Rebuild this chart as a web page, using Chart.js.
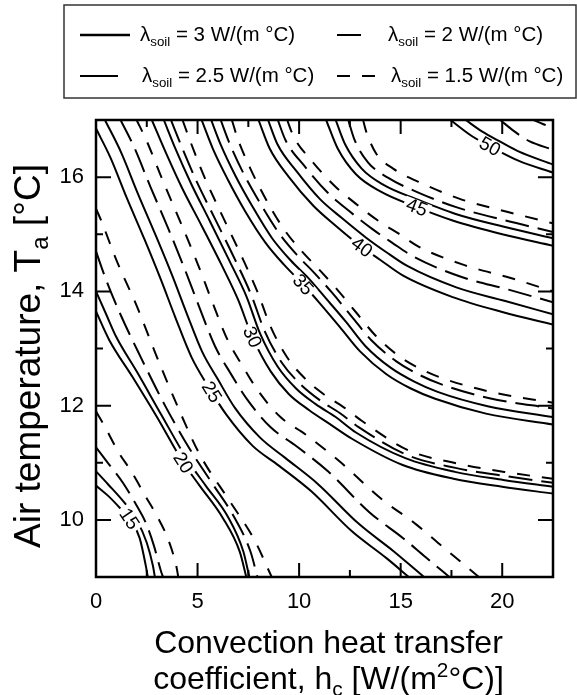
<!DOCTYPE html>
<html>
<head>
<meta charset="utf-8">
<script src="https://cdn.jsdelivr.net/npm/chart.js@4.4.0/dist/chart.umd.min.js"></script>
<style>
  html, body { margin: 0; padding: 0; background: #fff; }
  canvas { display: block; }
</style>
</head>
<body>
<canvas id="grafica" width="577" height="695"></canvas>
<script>
// Niveles de las curvas de contorno y conductividades del suelo
const niveles = [15, 20, 25, 30, 35, 40, 45, 50];
const lambdas = [3, 2.5, 2, 1.5];
// Marcas de los ejes
const ticksX = [0, 5, 10, 15, 20];
const ticksXMenores = [2.5, 7.5, 12.5, 17.5];
const ticksY = [10, 12, 14, 16];
const ticksYMenores = [11, 13, 15];
// Posición (h_c) de la etiqueta de cada nivel sobre la curva de lambda = 3
const posEtiquetas = [1.65, 4.3, 5.7, 7.7, 10.2, 13.1, 15.8, 19.4];

// Curvas: [h_c, T_a]
const n15_k30 = [[0,10.6],[0.6,10.42],[1.2,10.2],[1.7,10.0],[2.15,9.68],[2.45,9.2],[2.55,9.0]];
const n15_k25 = [[0,10.85],[0.6,10.62],[1.4,10.3],[2.0,10.0],[2.5,9.6],[2.8,9.2],[2.9,9.0]];
const n15_k20 = [[0,11.27],[0.6,10.99],[1.34,10.64],[2.0,10.25],[2.45,9.95],[2.85,9.55],[3.2,9.1],[3.3,9.0]];
const n15_k15 = [[0,11.9],[0.44,11.63],[1.1,11.19],[1.75,10.84],[2.41,10.43],[3.03,10.05],[3.55,9.66],[3.96,9.18],[4.05,9.0]];

const n20_k30 = [[0,13.65],[0.65,13.15],[1.8,12.5],[3.0,11.8],[4.3,11.0],[5.1,10.6],[6.25,10.03],[7.08,9.44],[7.4,9.0]];
const n20_k25 = [[0,14.0],[0.5,13.6],[1.0,13.2],[2.0,12.6],[3.2,11.85],[4.5,11.05],[5.4,10.6],[6.5,10.05],[7.25,9.45],[7.55,9.0]];
const n20_k20 = [[0,14.7],[0.5,14.2],[1.2,13.6],[2.2,12.85],[3.4,12.0],[4.6,11.25],[5.7,10.65],[6.8,10.05],[7.6,9.45],[7.95,9.0]];
const n20_k15 = [[0,15.45],[0.3,15.2],[1.0,14.55],[2.0,13.75],[3.0,12.85],[4.0,12.0],[5.1,11.15],[6.6,10.32],[7.8,9.65],[8.65,9.0]];

const n25_k30 = [[0,16.85],[0.7,16.35],[1.5,15.65],[2.4,14.9],[3.2,14.2],[3.9,13.55],[4.7,12.85],[5.5,12.35],[6.4,11.85],[7.7,11.3],[9.0,10.95],[10.6,10.5],[12.6,9.8],[14.3,9.33],[15.4,9.0]];
const n25_k25 = [[0.44,17.0],[1.24,16.43],[2.04,15.73],[2.94,14.98],[3.75,14.28],[4.45,13.63],[5.23,12.94],[6.0,12.46],[6.84,11.96],[8.08,11.44],[9.3,11.09],[10.92,10.63],[12.94,9.93],[14.62,9.46],[15.72,9.13],[16.15,9.0]];
const n25_k20 = [[1.21,17.0],[1.87,16.53],[2.68,15.83],[3.58,15.08],[4.39,14.37],[5.09,13.72],[5.86,13.04],[6.6,12.58],[7.44,12.11],[8.6,11.62],[9.79,11.31],[11.42,10.85],[13.47,10.13],[15.12,9.68],[16.22,9.35],[17.4,9.0]];
const n25_k15 = [[2.0,17.0],[2.5,16.63],[3.31,15.92],[4.21,15.17],[5.03,14.46],[5.73,13.81],[6.48,13.15],[7.19,12.71],[8.0,12.25],[9.08,11.8],[10.3,11.5],[12.0,11.02],[14.07,10.36],[15.73,9.93],[16.83,9.6],[18.85,9.0]];

const n30_k30 = [[2.75,17.0],[3.45,16.42],[4.25,15.8],[5.2,15.15],[6.2,14.45],[7.0,13.85],[7.7,13.2],[8.6,12.6],[9.5,12.2],[10.5,11.92],[11.5,11.68],[12.6,11.42],[15.1,10.96],[17.6,10.72],[20.0,10.58],[22.5,10.46]];
const n30_k25 = [[3.34,17.0],[3.92,16.49],[4.69,15.88],[5.62,15.22],[6.59,14.52],[7.41,13.91],[8.08,13.26],[8.95,12.68],[9.85,12.3],[10.8,12.03],[11.8,11.8],[12.8,11.53],[15.23,11.08],[17.67,10.84],[20.05,10.7],[22.5,10.58]];
const n30_k20 = [[3.69,17.0],[4.21,16.54],[4.96,15.92],[5.86,15.27],[6.84,14.56],[7.64,13.94],[8.31,13.3],[9.15,12.75],[10.05,12.38],[11.0,12.1],[12.0,11.87],[12.95,11.62],[15.29,11.14],[17.7,10.91],[20.08,10.77],[22.5,10.65]];
const n30_k15 = [[4.26,17.0],[4.66,16.61],[5.35,15.99],[6.21,15.33],[7.16,14.62],[7.95,13.99],[8.6,13.38],[9.4,12.85],[10.3,12.47],[11.25,12.19],[12.2,11.97],[13.1,11.73],[15.37,11.22],[17.75,10.99],[20.1,10.84],[22.5,10.72]];

const n35_k30 = [[5.2,17.0],[5.75,16.5],[6.5,15.95],[7.35,15.4],[8.35,14.85],[9.3,14.45],[10.2,14.12],[11.0,13.8],[12.0,13.38],[13.0,12.95],[14.3,12.55],[15.5,12.3],[16.7,12.12],[19.2,11.86],[22.5,11.67]];
const n35_k25 = [[5.67,17.0],[6.15,16.56],[6.87,16.02],[7.71,15.48],[8.67,14.93],[9.59,14.54],[10.49,14.22],[11.29,13.89],[12.3,13.47],[13.27,13.04],[14.52,12.66],[15.67,12.42],[16.82,12.24],[19.28,11.99],[22.5,11.8]];
const n35_k20 = [[6.14,17.0],[6.54,16.62],[7.24,16.08],[8.07,15.55],[9.01,15.02],[9.89,14.64],[10.78,14.31],[11.59,13.99],[12.59,13.56],[13.57,13.14],[14.77,12.78],[15.86,12.55],[16.95,12.38],[19.37,12.13],[22.5,11.95]];
const n35_k15 = [[6.69,17.0],[6.96,16.69],[7.6,16.15],[8.37,15.61],[9.27,15.08],[10.11,14.71],[10.99,14.38],[11.81,14.06],[12.81,13.63],[13.78,13.22],[14.94,12.86],[15.99,12.64],[17.05,12.48],[19.44,12.24],[22.5,12.05]];

const n40_k30 = [[8.0,17.0],[8.55,16.5],[9.5,16.0],[10.7,15.5],[11.8,15.15],[13.0,14.8],[14.0,14.55],[15.1,14.28],[17.56,13.9],[20.0,13.64],[22.5,13.42]];
const n40_k25 = [[8.47,17.0],[8.94,16.57],[9.88,16.1],[11.04,15.61],[12.12,15.28],[13.3,14.94],[14.28,14.69],[15.35,14.44],[17.74,14.07],[20.15,13.83],[22.5,13.6]];
const n40_k20 = [[8.95,17.0],[9.34,16.64],[10.25,16.2],[11.4,15.73],[12.45,15.41],[13.61,15.09],[14.59,14.85],[15.62,14.61],[17.93,14.26],[20.31,14.03],[22.5,13.81]];
const n40_k15 = [[9.41,17.0],[9.73,16.71],[10.61,16.29],[11.74,15.85],[12.77,15.54],[13.92,15.23],[14.91,15.01],[15.9,14.78],[18.14,14.46],[20.46,14.23],[22.5,14.0]];

const n45_k30 = [[11.33,17.0],[11.9,16.5],[12.8,16.05],[14.0,15.75],[15.6,15.5],[17.56,15.24],[20.0,15.0],[22.5,14.8]];
const n45_k25 = [[11.8,17.0],[12.27,16.57],[13.08,16.15],[14.18,15.86],[15.74,15.62],[17.67,15.36],[20.09,15.13],[22.5,14.93]];
const n45_k20 = [[12.42,17.0],[12.72,16.66],[13.39,16.26],[14.37,15.99],[15.87,15.73],[17.77,15.47],[20.17,15.24],[22.5,15.04]];
const n45_k15 = [[13.15,17.0],[13.32,16.78],[13.8,16.41],[14.63,16.15],[16.05,15.89],[17.91,15.62],[20.28,15.39],[22.5,15.19]];

const n50_k30 = [[17.45,17.0],[18.5,16.72],[19.6,16.5],[20.85,16.28],[22.5,16.08]];
const n50_k25 = [[18.2,17.0],[19.0,16.8],[19.9,16.62],[20.8,16.45],[22.5,16.22]];
const n50_k20 = [[19.9,17.0],[20.6,16.8],[21.33,16.63],[22.5,16.48]];
const n50_k15 = [[21.55,17.0],[22.0,16.93],[22.5,16.86]];

// Agrupar por nivel; dentro de cada nivel el orden es el de "lambdas"
const curvas = [
    [n15_k30, n15_k25, n15_k20, n15_k15],
    [n20_k30, n20_k25, n20_k20, n20_k15],
    [n25_k30, n25_k25, n25_k20, n25_k15],
    [n30_k30, n30_k25, n30_k20, n30_k15],
    [n35_k30, n35_k25, n35_k20, n35_k15],
    [n40_k30, n40_k25, n40_k20, n40_k15],
    [n45_k30, n45_k25, n45_k20, n45_k15],
    [n50_k30, n50_k25, n50_k20, n50_k15],
];

// Estilo de línea para cada lambda
const trazos = [[], [], [24, 9], [13, 12]];
const fuente = '"Liberation Sans", Arial, Helvetica, sans-serif';

const datasets = [];
curvas.forEach((grupo, i) => {
    grupo.forEach((pts, j) => {
        datasets.push({
            label: niveles[i] + ' / ' + lambdas[j],
            data: pts.map(([x, y]) => ({x, y})),
            showLine: true,
            borderColor: '#000',
            borderWidth: 2,
            borderDash: trazos[j],
            pointRadius: 0,
            cubicInterpolationMode: 'monotone',
            fill: false,
        });
    });
});

// interpolación lineal sobre una curva
function valorEn(pts, xv) {
    for (let k = 0; k < pts.length - 1; k++) {
        const [x0, y0] = pts[k], [x1, y1] = pts[k + 1];
        if (xv >= x0 && xv <= x1) return y0 + (y1 - y0) * (xv - x0) / (x1 - x0);
    }
    return pts[xv < pts[0][0] ? 0 : pts.length - 1][1];
}

// texto con subíndices / superíndices: partes = [[texto, tipo], ...]
function textoRico(ctx, partes, x, y, size, align) {
    let total = 0;
    const anchos = partes.map(([t, tipo]) => {
        ctx.font = (tipo ? size * 0.65 : size) + 'px ' + fuente;
        const w = ctx.measureText(t).width;
        total += w;
        return w;
    });
    let cx = align === 'center' ? x - total / 2 : x;
    ctx.textAlign = 'left';
    ctx.textBaseline = 'alphabetic';
    partes.forEach(([t, tipo], k) => {
        ctx.font = (tipo ? size * 0.65 : size) + 'px ' + fuente;
        const dy = tipo === 'sub' ? size * 0.22 : (tipo === 'sup' ? -size * 0.36 : 0);
        ctx.fillText(t, cx, y + dy);
        cx += anchos[k];
    });
}

const decoracion = {
    id: 'decoracion',
    afterDatasetsDraw(chart) {
        const {ctx, chartArea: a, scales: {x, y}} = chart;

        // Etiquetas de los niveles sobre la curva lambda = 3
        niveles.forEach((n, i) => {
            const pts = curvas[i][0];
            const xv = posEtiquetas[i];
            const px = x.getPixelForValue(xv), py = y.getPixelForValue(valorEn(pts, xv));
            const ax = x.getPixelForValue(xv - 0.3), ay = y.getPixelForValue(valorEn(pts, xv - 0.3));
            const bx = x.getPixelForValue(xv + 0.3), by = y.getPixelForValue(valorEn(pts, xv + 0.3));
            const ang = Math.atan2(by - ay, bx - ax);
            ctx.save();
            ctx.translate(px, py);
            ctx.rotate(ang);
            ctx.font = '19px ' + fuente;
            const w = ctx.measureText(String(n)).width;
            ctx.fillStyle = '#fff';
            ctx.fillRect(-w / 2 - 3, -7, w + 6, 14);
            ctx.fillStyle = '#000';
            ctx.textAlign = 'center';
            ctx.textBaseline = 'middle';
            ctx.fillText(String(n), 0, 1);
            ctx.restore();
        });

        // Marco y marcas hacia dentro
        ctx.save();
        ctx.strokeStyle = '#000';
        ctx.lineWidth = 2.5;
        ctx.strokeRect(a.left, a.top, a.right - a.left, a.bottom - a.top);
        ctx.lineWidth = 2;
        ctx.beginPath();
        const marcaX = (v, l) => {
            const p = x.getPixelForValue(v);
            ctx.moveTo(p, a.bottom); ctx.lineTo(p, a.bottom - l);
            ctx.moveTo(p, a.top); ctx.lineTo(p, a.top + l);
        };
        const marcaY = (v, l) => {
            const p = y.getPixelForValue(v);
            ctx.moveTo(a.left, p); ctx.lineTo(a.left + l, p);
            ctx.moveTo(a.right, p); ctx.lineTo(a.right - l, p);
        };
        ticksX.forEach(v => marcaX(v, 14));
        ticksXMenores.forEach(v => marcaX(v, 7));
        ticksY.forEach(v => marcaY(v, 15));
        ticksYMenores.forEach(v => marcaY(v, 7));
        ctx.stroke();
        ctx.restore();
    },
    afterDraw(chart) {
        const {ctx, chartArea: a} = chart;
        ctx.save();
        ctx.fillStyle = '#000';

        // Título eje X (dos líneas)
        const cx = (a.left + a.right) / 2 + 4;
        textoRico(ctx, [['Convection heat transfer', '']], cx, 653, 32, 'center');
        textoRico(ctx, [['coefficient, h', ''], ['c', 'sub'], [' [W/(m', ''], ['2', 'sup'], ['°C)]', '']], cx, 689, 32, 'center');

        // Título eje Y (rotado)
        ctx.save();
        ctx.translate(40, 356);
        ctx.rotate(-Math.PI / 2);
        textoRico(ctx, [['Air temperature, T', ''], ['a', 'sub'], [' [°C]', '']], 0, 0, 37, 'center');
        ctx.restore();

        // Leyenda
        ctx.strokeStyle = '#333';
        ctx.lineWidth = 1.5;
        ctx.strokeRect(64, 5, 512, 93);
        const entradas = [
            {j: 0, x: 80, y: 35, largo: 50, ancho: 2.5, tx: 140},
            {j: 2, x: 337, y: 35, largo: 25, ancho: 2, tx: 388},
            {j: 1, x: 80, y: 76, largo: 38, ancho: 2, tx: 142},
            {j: 3, x: 337, y: 76, largo: 38, ancho: 2, tx: 391},
        ];
        entradas.forEach(e => {
            ctx.strokeStyle = '#000';
            ctx.lineWidth = e.ancho;
            ctx.setLineDash(trazos[e.j]);
            ctx.beginPath();
            ctx.moveTo(e.x, e.y);
            ctx.lineTo(e.x + e.largo, e.y);
            ctx.stroke();
            ctx.setLineDash([]);
            textoRico(ctx, [['\u03bb', ''], ['soil', 'sub'], [' = ' + lambdas[e.j] + ' W/(m \u00b0C)', '']], e.tx, e.y + 6, 20.5, 'left');
        });
        ctx.restore();
    }
};

new Chart(document.querySelector('#grafica'), {
    type: 'scatter',
    data: { datasets },
    options: {
        responsive: false,
        animation: false,
        devicePixelRatio: 1,
        layout: { padding: { top: 120, right: 24, left: 0, bottom: 0 } },
        plugins: { legend: { display: false }, tooltip: { enabled: false } },
        scales: {
            x: {
                type: 'linear', min: 0, max: 22.5,
                grid: { display: false, drawTicks: false }, border: { display: false },
                afterBuildTicks: s => { s.ticks = ticksX.map(v => ({value: v})); },
                afterFit: s => { s.height = 118; },
                ticks: { color: '#000', font: { family: fuente, size: 22 }, padding: 12, maxRotation: 0, autoSkip: false },
            },
            y: {
                type: 'linear', min: 9, max: 17,
                grid: { display: false, drawTicks: false }, border: { display: false },
                afterBuildTicks: s => { s.ticks = ticksY.map(v => ({value: v})); },
                afterFit: s => { s.width = 96; },
                ticks: { color: '#000', font: { family: fuente, size: 22 }, padding: 12, autoSkip: false },
            },
        },
    },
    plugins: [decoracion],
});
</script>
</body>
</html>
